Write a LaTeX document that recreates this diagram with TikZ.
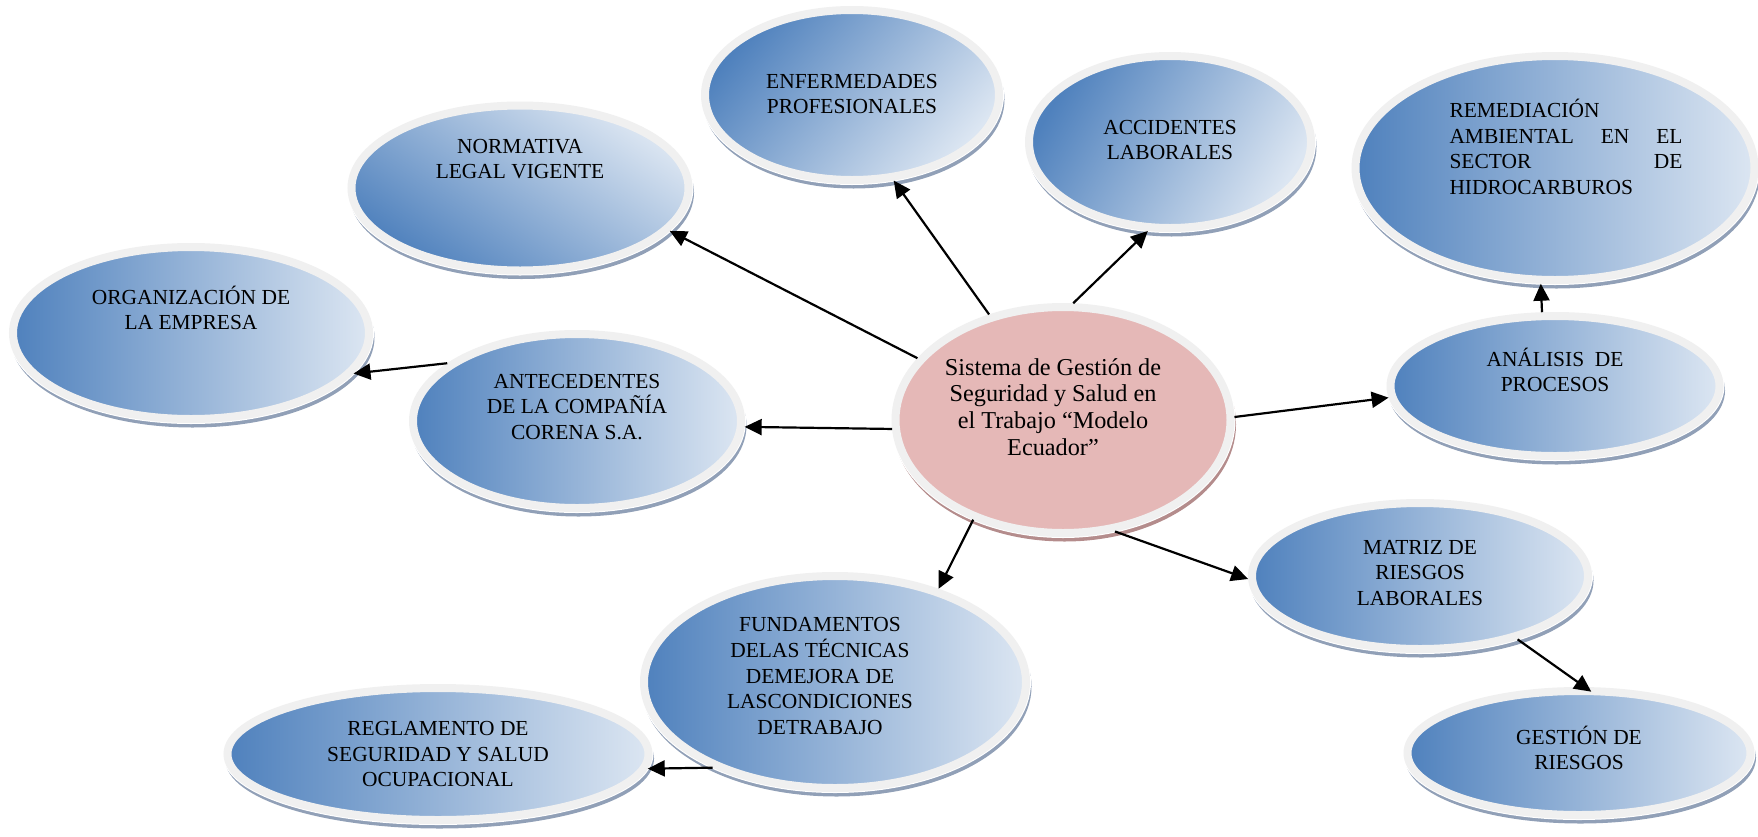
\documentclass[tikz,border=0pt]{standalone}
\usepackage{fontspec}
\setmainfont{Liberation Serif}
\usetikzlibrary{arrows.meta,shapes.geometric,shadows}
\definecolor{bdark}{RGB}{79,129,189}
\definecolor{blight}{RGB}{220,230,242}
\definecolor{band}{RGB}{240,240,240}
\definecolor{shblue}{RGB}{145,160,183}
\definecolor{pinkc}{RGB}{229,184,183}
\definecolor{shpink}{RGB}{180,140,140}
\tikzset{
  bub/.style={ellipse,draw=band,line width=.8mm,inner sep=0pt,outer sep=.4mm,
              left color=bdark,right color=blight,
              drop shadow={shadow xshift=.15mm,shadow yshift=-.45mm,opacity=1,
                           fill=shblue,draw=shblue,line width=.8mm},
              preaction={draw=white,line width=1mm}},
  core/.style={ellipse,draw=band,line width=.8mm,inner sep=0pt,outer sep=.4mm,
               fill=pinkc,
               drop shadow={shadow xshift=.15mm,shadow yshift=-.45mm,opacity=1,
                            fill=shpink,draw=shpink,line width=.8mm},
               preaction={draw=white,line width=1mm}},
  txt/.style={font=\fontsize{6.1}{7.3}\selectfont,align=center,inner sep=0pt},
  ctxt/.style={font=\fontsize{6.9}{7.6}\selectfont,align=center,inner sep=0pt},
  ar/.style={-{Triangle[length=1.7mm,width=1.6mm]},line width=.22mm},
}
\begin{document}
\begin{tikzpicture}
  \useasboundingbox (0,0) rectangle (17.58,8.36);
  % bubbles
  \node[bub,minimum width=2.94cm,minimum height=1.70cm,shading angle=50] (enf) at (8.52,7.41){};
  \node[bub,minimum width=2.82cm,minimum height=1.72cm,shading angle=60] (acc) at (11.70,6.94){};
  \node[bub,minimum width=3.99cm,minimum height=2.24cm] (rem) at (15.55,6.68){};
  \node[bub,minimum width=3.37cm,minimum height=1.65cm,shading angle=145] (norm) at (5.20,6.48){};
  \node[bub,minimum width=3.56cm,minimum height=1.72cm] (org) at (1.91,5.03){};
  \node[bub,minimum width=3.28cm,minimum height=1.74cm] (ante) at (5.77,4.15){};
  \node[core,minimum width=3.35cm,minimum height=2.26cm] (sgs) at (10.63,4.16){};
  \node[bub,minimum width=3.29cm,minimum height=1.40cm] (anal) at (15.55,4.50){};
  \node[bub,minimum width=3.36cm,minimum height=1.46cm] (matr) at (14.20,2.60){};
  \node[bub,minimum width=3.43cm,minimum height=1.24cm] (gest) at (15.79,0.83){};
  \node[bub,minimum width=3.82cm,minimum height=2.12cm] (fund) at (8.35,1.54){};
  \node[bub,minimum width=4.21cm,minimum height=1.32cm] (regl) at (4.38,0.82){};
  % texts
  \node[txt] (enf-t) at ([yshift=.1mm]enf.center){ENFERMEDADES\\PROFESIONALES};
  \node[txt] (acc-t) at ([yshift=.2mm]acc.center){ACCIDENTES\\LABORALES};
  \node[txt,text width=2.33cm,align=left] (rem-t) at ([xshift=1.1mm,yshift=2.1mm]rem.center)
       {REMEDIACIÓN\\AMBIENTAL\hfill EN\hfill EL\\SECTOR\hfill DE\\HIDROCARBUROS};
  \node[txt] (norm-t) at ([yshift=2.9mm]norm.center){NORMATIVA\\LEGAL VIGENTE};
  \node[txt] (org-t) at ([yshift=2.5mm]org.center){ORGANIZACIÓN DE\\LA EMPRESA};
  \node[txt] (ante-t) at ([yshift=1.4mm]ante.center){ANTECEDENTES\\DE LA COMPAÑÍA\\CORENA S.A.};
  \node[ctxt] (sgs-t) at ([xshift=-1mm,yshift=1.3mm]sgs.center)
       {Sistema de Gestión de\\Seguridad y Salud en\\el Trabajo “Modelo\\Ecuador”};
  \node[txt] (anal-t) at ([yshift=1.6mm]anal.center){ANÁLISIS~~DE\\PROCESOS};
  \node[txt] (matr-t) at ([yshift=.3mm]matr.center){MATRIZ DE\\RIESGOS\\LABORALES};
  \node[txt] (gest-t) at ([yshift=.5mm]gest.center){GESTIÓN DE\\RIESGOS};
  \node[txt] (fund-t) at ([xshift=-1.5mm,yshift=.6mm]fund.center)
       {FUNDAMENTOS\\DELAS TÉCNICAS\\DEMEJORA DE\\LASCONDICIONES\\DETRABAJO};
  \node[txt] (regl-t) at (regl.center){REGLAMENTO DE\\SEGURIDAD Y SALUD\\OCUPACIONAL};
  % connectors
  \draw[ar] (sgs.157) -- (norm.-16);
  \draw[ar] (sgs.125) -- (enf.-64);
  \draw[ar] (sgs.85) -- (acc.-104);
  \draw[ar] (sgs.183) -- (ante.-2);
  \draw[ar] (ante.156) -- (org.-14);
  \draw[ar] (sgs.1) -- (anal.184);
  \draw[ar] (anal.100) -- (rem.-97);
  \draw[ar] (sgs.-65) -- (matr.181);
  \draw[ar,shorten >=-.8mm] (matr.-33) -- (gest.85);
  \draw[ar] (sgs.-132) -- (fund.42);
  \draw[ar] (fund.215) -- (regl.-4);
\end{tikzpicture}
\end{document}
